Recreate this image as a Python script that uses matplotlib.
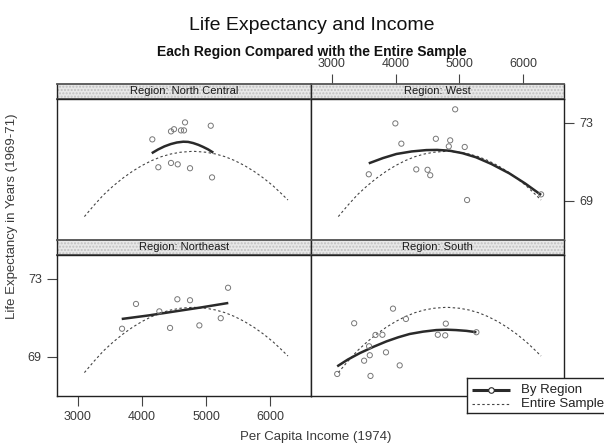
import matplotlib.pyplot as plt
from matplotlib.patches import Rectangle

plt.rcParams['font.family'] = ['Liberation Sans', 'DejaVu Sans']

# === DATA ===
# North Central
nc_income = [4672, 4500, 4453, 4609, 4656, 5074, 4161, 4453, 4558, 4255, 4750, 5094]
nc_life = [73.03, 72.68, 72.57, 72.62, 72.62, 72.86, 72.16, 70.95, 70.88, 70.73, 70.68, 70.21]
nc_fit_x = [4152, 4250, 4350, 4450, 4545, 4645, 4720, 4800, 4880, 4950, 5030, 5114]
nc_fit_y = [71.45, 71.64, 71.80, 71.92, 72.00, 72.04, 72.03, 71.97, 71.88, 71.78, 71.65, 71.48]

# West
w_income = [4933, 3995, 4089, 4630, 4855, 4833, 5083, 3578, 4323, 4500, 4542, 5120, 6281]
w_life = [73.70, 72.98, 71.94, 72.19, 72.11, 71.80, 71.77, 70.37, 70.62, 70.60, 70.32, 69.05, 69.34]
w_fit_x = [3578, 3800, 4011, 4250, 4480, 4650, 4844, 5050, 5261, 5500, 5781, 6030, 6281]
w_fit_y = [70.93, 71.20, 71.41, 71.54, 71.61, 71.62, 71.58, 71.45, 71.24, 70.90, 70.42, 69.90, 69.31]

# Northeast
ne_income = [5344, 3906, 4552, 4750, 4271, 3688, 4438, 4896, 5230]
ne_life = [72.55, 71.72, 71.96, 71.91, 71.34, 70.45, 70.49, 70.62, 70.99]
ne_fit_x = [3683, 4100, 4500, 4920, 5348]
ne_fit_y = [70.95, 71.13, 71.33, 71.54, 71.77]

# South
s_income = [3958, 3349, 4161, 4786, 3683, 3792, 4661, 4777, 5266, 3583, 3594,
            3848, 3505, 4063, 3083, 3605]
s_life = [71.48, 70.73, 70.95, 70.71, 70.13, 70.14, 70.14, 70.11, 70.27, 69.55, 69.09,
          69.24, 68.81, 68.57, 68.13, 68.03]
s_fit_x = [3083, 3250, 3438, 3650, 3855, 4040, 4219, 4430, 4636, 4800, 4948, 5110, 5266]
s_fit_y = [68.52, 68.87, 69.20, 69.52, 69.80, 70.01, 70.18, 70.30, 70.38, 70.40, 70.38,
           70.34, 70.27]

# Entire sample fit (same in every panel)
all_fit_x = [3100, 3250, 3400, 3550, 3700, 3850, 4000, 4150, 4300, 4450, 4600, 4800,
             5000, 5150, 5300, 5450, 5600, 5750, 5900, 6050, 6180, 6280]
all_fit_y = [68.20, 68.78, 69.32, 69.77, 70.17, 70.52, 70.82, 71.07, 71.27, 71.41, 71.50,
             71.55, 71.50, 71.41, 71.27, 71.07, 70.82, 70.52, 70.17, 69.77, 69.37, 69.05]

x_ticks = [3000, 4000, 5000, 6000]
y_ticks = [69, 73]

XLIM = (2672, 6640)
YLIM = (67.0, 74.23)

# === PLOTTING ===
W, H = 604, 445
fig = plt.figure(figsize=(W / 100, H / 100), dpi=100)


def box(x0, y0, x1, y1):
    return [x0 / W, 1 - y1 / H, (x1 - x0) / W, (y1 - y0) / H]


panels = [
    ('Region: North Central', nc_income, nc_life, nc_fit_x, nc_fit_y, 57, 311, 84),
    ('Region: West', w_income, w_life, w_fit_x, w_fit_y, 311, 564, 84),
    ('Region: Northeast', ne_income, ne_life, ne_fit_x, ne_fit_y, 57, 311, 240),
    ('Region: South', s_income, s_life, s_fit_x, s_fit_y, 311, 564, 240),
]

tick_color = '#3a3a3a'
axes = []
for name, xs, ys, fx, fy, x0, x1, top in panels:
    strip = fig.add_axes(box(x0, top, x1, top + 15))
    ax = fig.add_axes(box(x0, top + 15, x1, top + 156))
    for a in (strip, ax):
        a.set_xlim(XLIM)
        a.set_xticks([])
        a.set_yticks([])
        for s in a.spines.values():
            s.set_linewidth(1.0)
            s.set_color('#222222')
    ax.set_ylim(YLIM)

    strip.add_patch(Rectangle((0, 0), 1, 1, transform=strip.transAxes,
                              facecolor='#e8e8e8', edgecolor='#c0c0c0',
                              hatch='.....', lw=0))
    strip.spines['top'].set_color('#555555')
    strip.spines['bottom'].set_color('#555555')
    strip.spines['top'].set_linewidth(1.3)
    strip.spines['bottom'].set_linewidth(1.3)
    strip.text(0.5, 0.5, name, transform=strip.transAxes, ha='center', va='center',
               fontsize=8, color='#1a1a1a')

    ax.plot(all_fit_x, all_fit_y, color='#444444', lw=0.8, ls=(0, (2.2, 2.2)))
    ax.plot(fx, fy, color='#2a2a2a', lw=1.8, solid_capstyle='butt')
    ax.scatter(xs, ys, s=14, facecolors='none', edgecolors='#777777', linewidths=0.7,
               zorder=3)
    axes.append((name, strip, ax))

# ticks: bottom-left (x below, y left) and top-right (x above strip, y right)
bl_ax = axes[2][2]
bl_ax.set_xticks(x_ticks)
bl_ax.set_yticks(y_ticks)
bl_ax.tick_params(direction='out', length=7, width=0.8, color='#444444',
                  labelsize=9, labelcolor=tick_color, pad=4)

tr_strip = axes[1][1]
tr_strip.xaxis.tick_top()
tr_strip.set_xticks(x_ticks)
tr_strip.tick_params(axis='x', direction='out', length=7, width=0.8, color='#444444',
                     labelsize=9, labelcolor=tick_color, pad=3)

tr_ax = axes[1][2]
tr_ax.yaxis.tick_right()
tr_ax.set_yticks(y_ticks)
tr_ax.tick_params(axis='y', direction='out', length=7, width=0.8, color='#444444',
                  labelsize=9, labelcolor=tick_color, pad=4)

# titles and labels
fig.text(312 / W, 1 - 25 / H, 'Life Expectancy and Income', ha='center', va='center',
         fontsize=14, color='#111111')
fig.text(312 / W, 1 - 52 / H, 'Each Region Compared with the Entire Sample',
         ha='center', va='center', fontsize=10, fontweight='bold', color='#111111')
fig.text(12 / W, 1 - 216 / H, 'Life Expectancy in Years (1969-71)', rotation=90,
         ha='center', va='center', fontsize=9.5, color=tick_color)
fig.text(316 / W, 1 - 437 / H, 'Per Capita Income (1974)', ha='center', va='center',
         fontsize=9.5, color=tick_color)

# legend box, cut off at the right edge like the reference
leg = fig.add_axes(box(467, 378, 625, 413))
leg.set_xlim(0, 158)
leg.set_ylim(35, 0)
leg.set_xticks([])
leg.set_yticks([])
for s in leg.spines.values():
    s.set_linewidth(1.0)
    s.set_color('#222222')
leg.plot([5, 43], [11.5, 11.5], color='#2a2a2a', lw=2.2, solid_capstyle='butt')
leg.plot([24], [11.5], marker='o', ms=4, mfc='white', mec='#2a2a2a', mew=0.8)
leg.plot([5, 43], [26, 26], color='#444444', lw=0.8, ls=(0, (2.2, 2.2)))
leg.text(54, 11.5, 'By Region', va='center', ha='left', fontsize=9.5, color='#222222')
leg.text(54, 26, 'Entire Sample', va='center', ha='left', fontsize=9.5, color='#222222')

fig.savefig('out.png', dpi=100)
